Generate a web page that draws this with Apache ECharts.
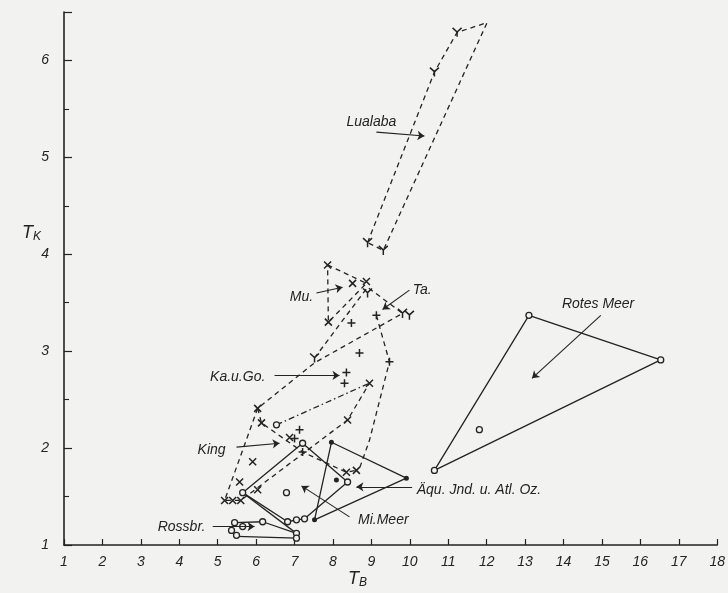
<!DOCTYPE html>
<html>
<head>
    <meta charset="utf-8">
    <title>T_K / T_B</title>
    <script src="https://cdn.jsdelivr.net/npm/echarts@6/dist/echarts.min.js"></script>
    <style>
        html, body { margin: 0; padding: 0; background: #f2f2f0; }
        #chart1 { width: 728px; height: 593px; }
    </style>
</head>
<body>
<div id="chart1"></div>
<script type="text/javascript">
    // --- Werte (T_B, T_K) ---
    var xTicks = [1, 2, 3, 4, 5, 6, 7, 8, 9, 10, 11, 12, 13, 14, 15, 16, 17, 18];
    var yTicks = [1, 2, 3, 4, 5, 6];

    var lualabaLine = [[8.90, 4.12], [10.64, 5.88], [11.23, 6.29], [12.01, 6.39], [9.31, 4.04], [8.90, 4.12]];
    var lualabaPts = [[8.90, 4.12], [9.31, 4.04], [10.64, 5.88], [11.23, 6.29]];

    var muLine = [[7.86, 3.89], [8.87, 3.70], [7.88, 3.30], [7.86, 3.89]];
    var muPts = [[7.86, 3.89], [8.51, 3.70], [8.87, 3.72], [7.88, 3.30]];

    var taLine = [[7.52, 2.93], [8.90, 3.66], [9.81, 3.39], [7.52, 2.88], [6.04, 2.41]];
    var taPts = [[7.52, 2.93], [8.90, 3.60], [9.81, 3.39], [9.99, 3.37]];

    var kaLine = [[9.13, 3.37], [9.47, 2.89], [8.95, 2.08], [8.69, 1.79]];
    var kaPts = [[9.13, 3.37], [8.48, 3.29], [8.69, 2.98], [9.47, 2.89], [8.35, 2.78], [8.30, 2.67],
        [7.13, 2.19], [7.00, 2.10], [7.21, 1.96]];

    var kingLeft = [[6.04, 2.41], [5.18, 1.46], [5.60, 1.46], [8.38, 2.29], [8.95, 2.67]];
    var kingInner = [[6.04, 2.41], [6.14, 2.26], [7.21, 1.96], [8.35, 1.75], [8.61, 1.77]];
    var kingTop = [[6.53, 2.24], [8.95, 2.67]];
    var kingPts = [[6.04, 2.41], [6.14, 2.26], [6.87, 2.11], [5.91, 1.86], [5.57, 1.65], [6.04, 1.57],
        [5.18, 1.46], [5.39, 1.46], [5.60, 1.46], [8.38, 2.29], [8.35, 1.75], [8.61, 1.77], [8.95, 2.67]];
    var kingRing = [[6.53, 2.24]];

    var miMeerLine = [[5.65, 1.54], [7.21, 2.05], [8.38, 1.65], [7.26, 1.27], [7.05, 1.26], [6.82, 1.24], [5.65, 1.54]];
    var miMeerSide = [[5.65, 1.54], [7.05, 1.12]];
    var miMeerPts = [[5.65, 1.54], [7.21, 2.05], [8.38, 1.65], [7.26, 1.27], [7.05, 1.26], [6.82, 1.24], [6.79, 1.54]];

    var aquLine = [[7.96, 2.06], [9.91, 1.69], [7.52, 1.26], [7.96, 2.06]];
    var aquPts = [[7.96, 2.06], [9.91, 1.69], [7.52, 1.26], [8.09, 1.67]];

    var rossbrLine = [[5.44, 1.23], [6.17, 1.24], [7.05, 1.12], [7.05, 1.07], [5.49, 1.09]];
    var rossbrPts = [[5.44, 1.23], [5.65, 1.19], [5.36, 1.15], [5.49, 1.10], [6.17, 1.24], [7.05, 1.12], [7.05, 1.07]];

    var rotesLine = [[10.64, 1.77], [13.10, 3.37], [16.53, 2.91], [10.64, 1.77]];
    var rotesPts = [[10.64, 1.77], [13.10, 3.37], [16.53, 2.91], [11.81, 2.19]];

    // Beschriftungen mit Pfeil (Text, Textpunkt, Pfeil von, Pfeil nach)
    var notes = [
        ['Lualaba', [9.00, 5.36], [9.13, 5.26], [10.38, 5.22]],
        ['Mu.', [7.18, 3.56], [7.57, 3.60], [8.25, 3.66]],
        ['Ta.', [10.32, 3.63], [9.99, 3.63], [9.29, 3.43]],
        ['Ka.u.Go.', [5.52, 2.73], [6.48, 2.75], [8.17, 2.75]],
        ['King', [4.84, 1.98], [5.49, 2.01], [6.61, 2.05]],
        ['Rossbr.', [4.06, 1.18], [4.87, 1.19], [5.96, 1.19]],
        ['Mi.Meer', [9.31, 1.26], [8.43, 1.29], [7.18, 1.61]],
        ['Äqu. Jnd. u. Atl. Oz.', [11.80, 1.57], [10.06, 1.60], [8.61, 1.60]],
        ['Rotes Meer', [14.90, 3.49], [14.97, 3.37], [13.18, 2.72]]
    ];

    var INK = '#232323';
    var PAPER = '#f2f2f0';
    var FONT = 'Liberation Sans';
    var DASH = [5, 4];
    var DASHDOT = [6, 3, 1.5, 3];

    var SYM_X = 'path://M0,0L10,10M10,0L0,10';
    var SYM_PLUS = 'path://M5,0L5,10M0,5L10,5';
    var SYM_Y = 'path://M0,0L5,5L10,0M5,5L5,11';

    function outline(data, dash) {
        return {
            type: 'line', data: data, symbol: 'none', silent: true, animation: false,
            lineStyle: { color: INK, width: 1.3, type: dash }, z: 2
        };
    }

    function strokeMarks(data, sym, size) {
        return {
            type: 'scatter', data: data, symbol: sym, symbolSize: size, silent: true, animation: false,
            itemStyle: { color: 'none', borderColor: INK, borderWidth: 1.5, opacity: 1 }, z: 4
        };
    }

    function ringMarks(data) {
        return {
            type: 'scatter', data: data, symbol: 'circle', symbolSize: 6, silent: true, animation: false,
            itemStyle: { color: PAPER, borderColor: INK, borderWidth: 1.3, opacity: 1 }, z: 5
        };
    }

    function dotMarks(data) {
        return {
            type: 'scatter', data: data, symbol: 'circle', symbolSize: 5, silent: true, animation: false,
            itemStyle: { color: INK, opacity: 1 }, z: 5
        };
    }

    var myChart1 = echarts.init(document.getElementById('chart1'));

    var labelSeries = {
        type: 'scatter', symbolSize: 0, silent: true, animation: false, z: 6,
        data: notes.map(function (n) { return { value: n[1], name: n[0] }; }),
        label: {
            show: true, position: 'inside', formatter: '{b}',
            fontFamily: FONT, fontStyle: 'italic', fontSize: 14, color: INK, opacity: 1
        }
    };

    var arrowSeries = {
        type: 'lines', coordinateSystem: 'cartesian2d', silent: true, animation: false, z: 6,
        symbol: ['none', 'arrow'], symbolSize: 7,
        lineStyle: { color: INK, width: 1.1, opacity: 1 },
        data: notes.map(function (n) { return { coords: [n[2], n[3]] }; })
    };

    myChart1.setOption({
        backgroundColor: PAPER,
        animation: false,
        grid: { left: 64, right: 10, top: 12, bottom: 48 },
        xAxis: {
            type: 'value', min: xTicks[0], max: xTicks[xTicks.length - 1], interval: 1,
            axisLine: { lineStyle: { color: INK, width: 1.6 } },
            axisTick: { inside: true, length: 6, lineStyle: { color: INK, width: 1.2 } },
            axisLabel: { fontFamily: FONT, fontStyle: 'italic', fontSize: 14, color: INK, margin: 10 },
            splitLine: { show: false }
        },
        yAxis: {
            type: 'value', min: yTicks[0], max: 6.5, interval: 1,
            axisLine: { lineStyle: { color: INK, width: 1.6 } },
            axisTick: { inside: true, length: 8, lineStyle: { color: INK, width: 1.2 } },
            minorTick: { show: true, splitNumber: 2, length: 5, lineStyle: { color: INK, width: 1.1 } },
            axisLabel: {
                fontFamily: FONT, fontStyle: 'italic', fontSize: 14, color: INK, margin: 15,
                formatter: function (v) { return yTicks.indexOf(v) >= 0 ? String(v) : ''; }
            },
            splitLine: { show: false }
        },
        graphic: [
            {
                type: 'text', left: 22, top: 224,
                style: {
                    text: '{t|T}{s|K}', fill: INK,
                    rich: {
                        t: { fontFamily: FONT, fontStyle: 'italic', fontSize: 18, fill: INK },
                        s: { fontFamily: FONT, fontStyle: 'italic', fontSize: 12, fill: INK, padding: [8, 0, 0, 0] }
                    }
                }
            },
            {
                type: 'text', left: 348, top: 570,
                style: {
                    text: '{t|T}{s|B}', fill: INK,
                    rich: {
                        t: { fontFamily: FONT, fontStyle: 'italic', fontSize: 18, fill: INK },
                        s: { fontFamily: FONT, fontStyle: 'italic', fontSize: 12, fill: INK, padding: [8, 0, 0, 0] }
                    }
                }
            }
        ],
        series: [
            outline(lualabaLine, DASH),
            outline(muLine, DASH),
            outline(taLine, DASH),
            outline(kaLine, DASH),
            outline(kingLeft, DASH),
            outline(kingInner, DASH),
            outline(kingTop, DASHDOT),
            outline(miMeerLine, 'solid'),
            outline(miMeerSide, 'solid'),
            outline(aquLine, 'solid'),
            outline(rossbrLine, 'solid'),
            outline(rotesLine, 'solid'),
            strokeMarks(lualabaPts, SYM_Y, 9),
            strokeMarks(muPts, SYM_X, 7),
            strokeMarks(taPts, SYM_Y, 9),
            strokeMarks(kaPts, SYM_PLUS, 8),
            strokeMarks(kingPts, SYM_X, 7),
            ringMarks(kingRing),
            ringMarks(miMeerPts),
            dotMarks(aquPts),
            ringMarks(rossbrPts),
            ringMarks(rotesPts),
            arrowSeries,
            labelSeries
        ]
    });
</script>
</body>
</html>
